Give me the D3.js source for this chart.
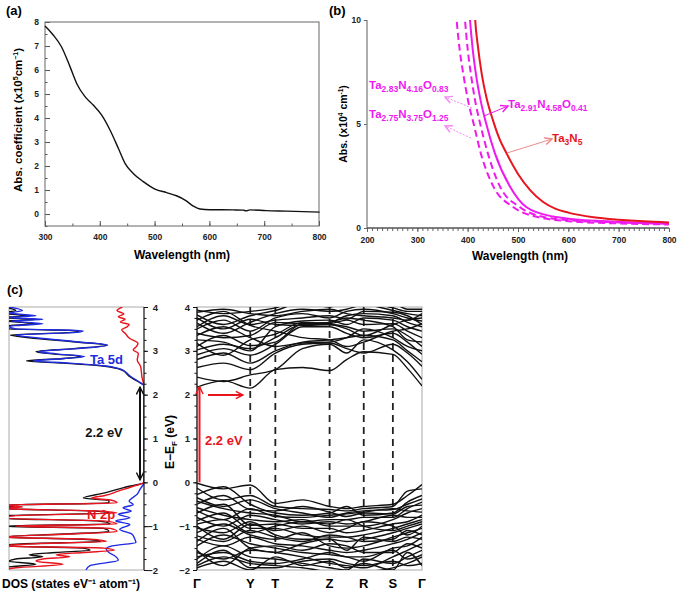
<!DOCTYPE html>
<html>
<head>
<meta charset="utf-8">
<script src="https://cdn.jsdelivr.net/npm/d3@7"></script>
<style>
  body { margin: 0; background: #fff; }
  svg { font-family: "Liberation Sans", Arial, sans-serif; font-weight: bold; }
</style>
</head>
<body>
<svg id="fig" width="685" height="596"></svg>
<script>
// ---------- (a) absorption coefficient ----------
const waveA = [300, 315, 330, 345.6, 357.8, 373, 388, 403.5, 418.6, 433.8, 446, 461, 479.4, 500.7, 522, 540, 555.5, 570.6, 583, 601, 643, 662, 667, 674, 704, 741, 801];
const absA = [7.83, 7.46, 6.97, 6.14, 5.44, 4.89, 4.54, 4.12, 3.5, 2.74, 2.11, 1.69, 1.35, 1.04, 0.89, 0.76, 0.58, 0.33, 0.21, 0.18, 0.17, 0.16, 0.13, 0.17, 0.14, 0.12, 0.08];
const ticksAx = [300, 400, 500, 600, 700, 800];
const ticksAy = [0, 1, 2, 3, 4, 5, 6, 7, 8];

// ---------- (b) absorption of the four samples ----------
const waveTa3N5 = [412, 415, 420, 428, 438, 450, 463, 477, 500, 525, 550, 575, 600, 650, 700, 750, 800];
const absTa3N5 = [11.5, 10, 8.8, 7.4, 6.2, 5.2, 4.3, 3.6, 2.6, 1.8, 1.25, 0.92, 0.74, 0.52, 0.4, 0.32, 0.27];
const waveO041 = [400, 404.6, 410, 417, 426, 437, 454, 484, 517, 570, 600, 700, 800];
const absO041 = [11.5, 10, 8.6, 7.3, 6.1, 5.0, 3.6, 2.0, 1.0, 0.55, 0.45, 0.3, 0.22];
const waveO083 = [390, 394.7, 400, 407, 415, 425, 440, 464, 504, 557, 600, 700, 800];
const absO083 = [11.5, 10, 8.6, 7.3, 6.1, 5.0, 3.6, 2.0, 1.0, 0.5, 0.38, 0.27, 0.2];
const waveO125 = [373, 378, 384, 392, 401, 412, 426, 451, 491, 544, 600, 700, 800];
const absO125 = [11.5, 10, 8.6, 7.3, 6.1, 5.0, 3.6, 2.0, 1.0, 0.5, 0.33, 0.22, 0.17];
const ticksBx = [200, 300, 400, 500, 600, 700, 800];
const ticksBy = [0, 5, 10];
const nameTa3N5 = ['Ta', '3', 'N', '5'];
const nameO041 = ['Ta', '2.91', 'N', '4.58', 'O', '0.41'];
const nameO083 = ['Ta', '2.83', 'N', '4.16', 'O', '0.83'];
const nameO125 = ['Ta', '2.75', 'N', '3.75', 'O', '1.25'];

// ---------- (c) DOS, [energy eV, states] ----------
const dosTotal = [[-2.0, 10.5], [-1.95, 10.5], [-1.87, 8], [-1.8, 10], [-1.75, 9.5], [-1.7, 7.5], [-1.65, 8.5], [-1.6, 6.5], [-1.55, 4.0], [-1.5, 4.5], [-1.45, 10.5], [-1.4, 8.8], [-1.35, 3.2], [-1.3, 4.5], [-1.25, 10.5], [-1.18, 6.0], [-1.12, 2.6], [-1.05, 3.0], [-1.0, 10.5], [-0.95, 2.5], [-0.88, 3.5], [-0.82, 10.5], [-0.76, 10.5], [-0.7, 2.5], [-0.65, 4.0], [-0.6, 10.5], [-0.56, 9.6], [-0.52, 10.5], [-0.47, 2.6], [-0.41, 2.6], [-0.36, 4.5], [-0.24, 2.9], [-0.12, 1.5], [0, 0], [1, 0], [2.2, 0], [2.3, 0.45], [2.42, 1.1], [2.5, 1.35], [2.55, 1.55], [2.6, 2.0], [2.66, 3.2], [2.72, 6.0], [2.77, 8.7], [2.82, 6.2], [2.87, 4.6], [2.93, 6.8], [2.98, 8.0], [3.05, 5.2], [3.13, 2.8], [3.2, 5.0], [3.3, 8.5], [3.36, 9.9], [3.42, 5.3], [3.46, 4.8], [3.5, 10], [3.56, 10.5], [3.62, 8.0], [3.68, 10.2], [3.72, 8.0], [3.76, 10.5], [3.8, 8.5], [3.86, 10.5], [3.92, 9.5], [4.0, 10.5]];
const dosTa5d = [[-2.0, 4.3], [-1.9, 4.0], [-1.78, 1.9], [-1.67, 2.2], [-1.6, 2.6], [-1.52, 2.8], [-1.45, 2.35], [-1.37, 0.6], [-1.28, 0.7], [-1.18, 0.9], [-1.07, 1.8], [-0.96, 1.05], [-0.88, 2.1], [-0.81, 1.05], [-0.73, 1.9], [-0.66, 0.95], [-0.58, 1.55], [-0.51, 0.8], [-0.43, 1.1], [-0.27, 0.5], [-0.16, 0.3], [0, 0], [1, 0], [2.2, 0], [2.3, 0.4], [2.42, 1.0], [2.5, 1.3], [2.55, 1.5], [2.6, 1.9], [2.66, 3.0], [2.72, 5.5], [2.77, 8.2], [2.82, 6.0], [2.87, 4.4], [2.93, 6.5], [2.98, 7.8], [3.05, 5.0], [3.13, 2.7], [3.2, 4.8], [3.3, 8.0], [3.36, 9.5], [3.42, 5.0], [3.46, 4.5], [3.5, 9.5], [3.56, 10], [3.62, 7.5], [3.68, 9.8], [3.72, 7.5], [3.76, 10], [3.8, 8], [3.86, 10], [3.92, 9.0], [4.0, 10]];
const dosN2p = [[-2.0, 10.5], [-1.95, 9.5], [-1.87, 6.0], [-1.8, 8], [-1.75, 7.5], [-1.7, 5.5], [-1.65, 6.5], [-1.6, 4.5], [-1.55, 2.2], [-1.5, 3.0], [-1.45, 10.5], [-1.4, 8], [-1.35, 2.8], [-1.3, 4.0], [-1.25, 10.5], [-1.18, 5.5], [-1.12, 2.0], [-1.05, 2.5], [-1.0, 9.5], [-0.95, 2.0], [-0.88, 3.0], [-0.82, 10.5], [-0.76, 9.5], [-0.7, 2.0], [-0.65, 3.5], [-0.6, 10.5], [-0.56, 9], [-0.52, 10.5], [-0.47, 2.0], [-0.41, 2.4], [-0.36, 3.9], [-0.3, 2.9], [-0.2, 1.9], [-0.1, 0.9], [0, 0], [1, 0], [2.18, 0], [2.4, 0.15], [2.64, 0.25], [2.79, 0.5], [2.94, 0.42], [3.02, 0.8], [3.1, 0.55], [3.17, 0.45], [3.28, 1.05], [3.4, 1.4], [3.48, 1.65], [3.54, 1.3], [3.6, 1.1], [3.66, 1.75], [3.72, 1.4], [3.78, 1.9], [3.84, 1.5], [3.92, 2.0], [4.0, 1.6]];
const ticksE = [-2, -1, 0, 1, 2, 3, 4];

// ---------- (c) band structure ----------
const kDist = [0, 26.5, 53, 78, 105, 132, 149, 166, 195, 209.5, 224];
const kLabels = ['Γ', 'Y', 'T', 'Z', 'R', 'S', 'Γ'];
const kLabelIdx = [0, 2, 3, 5, 7, 8, 10];
const condBands = [
  [2.17, 2.32, 2.15, 2.57, 2.62, 2.55, 2.8, 2.98, 2.92, 2.6, 2.2],
  [2.40, 2.30, 2.45, 2.57, 3.05, 3.15, 2.95, 3.25, 3.02, 2.75, 2.35],
  [2.62, 2.72, 2.57, 2.95, 3.15, 3.18, 3.05, 2.95, 3.15, 2.95, 2.65],
  [2.80, 2.95, 2.72, 3.0, 3.2, 3.25, 3.3, 3.35, 3.25, 3.0, 2.75],
  [2.91, 3.05, 2.9, 3.15, 3.55, 3.55, 3.4, 3.3, 3.4, 3.2, 2.92],
  [3.02, 3.15, 3.05, 3.3, 3.6, 3.6, 3.55, 3.45, 3.5, 3.35, 3.1],
  [3.17, 2.9, 3.25, 3.38, 3.65, 3.62, 3.7, 3.6, 3.62, 3.45, 3.3],
  [3.25, 3.2, 3.0, 3.55, 3.68, 3.7, 3.6, 3.75, 3.7, 3.55, 3.45],
  [3.40, 3.3, 3.35, 3.65, 3.62, 3.65, 3.8, 3.85, 3.8, 3.65, 3.55],
  [3.50, 3.7, 3.45, 3.75, 3.85, 3.75, 3.9, 3.95, 3.85, 3.75, 3.68],
  [3.63, 3.4, 3.65, 3.85, 3.95, 3.9, 3.95, 4.05, 3.92, 3.85, 3.8],
  [3.82, 3.6, 3.8, 3.92, 4.1, 4.0, 4.1, 4.1, 3.98, 3.9, 3.9],
  [3.93, 3.85, 3.9, 3.98, 4.2, 4.2, 4.2, 4.2, 4.1, 3.95, 3.95],
  [3.7, 3.9, 3.58, 3.45, 3.3, 3.25, 3.1, 3.2, 3.45, 3.5, 3.62],
  [3.35, 3.55, 3.3, 3.1, 3.18, 3.2, 3.3, 3.5, 3.3, 3.1, 3.0],
  [3.75, 3.5, 3.72, 3.6, 3.58, 3.6, 3.5, 3.35, 3.6, 3.7, 3.75],
  [3.1, 3.35, 3.12, 3.2, 3.62, 3.65, 3.75, 3.7, 3.55, 3.25, 3.2],
  [3.55, 3.8, 3.6, 3.7, 3.75, 3.8, 3.72, 3.9, 3.88, 3.8, 3.6],
  [3.88, 3.95, 3.85, 3.8, 3.9, 3.95, 3.85, 3.8, 3.75, 3.7, 3.85]
];
const valBands = [
  [-0.02, -0.15, -0.06, -0.48, -0.4, -0.55, -0.6, -0.55, -0.5, -0.3, -0.05],
  [-0.13, -0.4, -0.3, -0.55, -0.6, -0.62, -0.65, -0.6, -0.55, -0.2, -0.15],
  [-0.28, -0.1, -0.5, -0.7, -0.75, -0.7, -0.55, -0.75, -0.7, -0.45, -0.3],
  [-0.43, -0.6, -0.7, -0.75, -0.9, -0.85, -0.85, -0.8, -0.8, -0.6, -0.45],
  [-0.58, -0.75, -0.85, -0.9, -0.85, -1.0, -1.0, -1.0, -0.85, -0.7, -0.6],
  [-0.7, -0.5, -0.98, -0.95, -1.05, -1.05, -1.15, -1.1, -0.95, -0.9, -0.75],
  [-0.88, -0.7, -1.05, -1.05, -1.2, -1.25, -1.25, -1.2, -1.05, -0.95, -0.85],
  [-1.04, -1.15, -0.9, -1.2, -1.3, -1.3, -1.35, -1.3, -1.15, -1.05, -0.95],
  [-1.15, -0.95, -1.2, -1.3, -1.15, -1.45, -1.5, -1.45, -1.25, -1.15, -1.05],
  [-1.3, -1.45, -1.25, -1.4, -1.45, -1.55, -1.6, -1.55, -1.4, -1.3, -1.15],
  [-1.45, -1.2, -1.4, -1.5, -1.6, -1.65, -1.7, -1.8, -1.5, -1.45, -1.25],
  [-1.6, -1.75, -1.55, -1.6, -1.7, -1.85, -1.9, -1.95, -1.7, -1.55, -1.4],
  [-1.75, -1.45, -1.7, -1.75, -1.85, -1.95, -2.0, -1.75, -1.85, -1.7, -1.55],
  [-1.9, -1.7, -1.85, -1.9, -1.95, -2.05, -2.1, -2.05, -1.95, -1.85, -1.7],
  [-0.35, -0.55, -0.4, -0.6, -0.7, -0.8, -0.7, -0.65, -0.62, -0.5, -0.38],
  [-1.0, -1.3, -0.95, -1.1, -1.0, -1.15, -1.05, -0.9, -1.0, -1.2, -1.0],
  [-1.85, -1.55, -1.95, -1.95, -1.8, -1.75, -1.85, -1.9, -1.8, -1.9, -1.85],
  [-0.8, -1.0, -0.75, -0.85, -0.95, -0.9, -0.95, -0.9, -0.75, -0.8, -0.8],
  [-0.5, -0.3, -0.62, -0.65, -0.55, -0.68, -0.78, -0.7, -0.72, -0.55, -0.52],
  [-1.22, -1.35, -1.1, -1.25, -1.35, -1.2, -1.25, -1.35, -1.3, -1.1, -1.2],
  [-1.55, -1.9, -1.5, -1.45, -1.55, -1.4, -1.45, -1.6, -1.6, -1.4, -1.5],
  [-0.95, -0.85, -1.15, -1.0, -0.9, -0.95, -0.85, -1.0, -1.1, -1.0, -0.9],
  [-1.7, -1.6, -1.8, -1.85, -1.75, -1.6, -1.7, -1.7, -1.55, -1.75, -1.65],
  [-0.65, -0.85, -0.6, -0.78, -0.8, -0.75, -0.72, -0.68, -0.6, -0.65, -0.68],
  [-1.35, -1.05, -1.5, -1.6, -1.4, -1.3, -1.55, -1.25, -1.35, -1.25, -1.3],
  [-1.95, -1.8, -2.0, -1.7, -1.9, -1.8, -1.95, -1.85, -2.0, -1.6, -1.9]
];

const RED = '#e8141e', MAGENTA = '#ee1aee', BLUE = '#1f2be0';
const svg = d3.select('#fig');
const defs = svg.append('defs');
const fmtInt = d3.format('d');

function marker(id, color, reverse) {
  defs.append('marker')
    .attr('id', id)
    .attr('viewBox', '0 0 10 10')
    .attr('refX', 9).attr('refY', 5)
    .attr('markerWidth', 9).attr('markerHeight', 9)
    .attr('markerUnits', 'userSpaceOnUse')
    .attr('orient', reverse ? 'auto-start-reverse' : 'auto')
    .append('path')
    .attr('d', 'M1,1 L9,5 L1,9')
    .attr('fill', 'none')
    .attr('stroke', color)
    .attr('stroke-width', 1.6);
}
marker('arrMag', '#f08cf0');
marker('arrMag2', MAGENTA);
marker('arrRed', '#f08a8a');
marker('arrRedB', RED);
marker('arrBlk', '#111', true);

function clip(id, x, y, w, h) {
  defs.append('clipPath').attr('id', id).append('rect')
    .attr('x', x).attr('y', y).attr('width', w).attr('height', h);
}

function styleAxis(g, size, color) {
  g.attr('font-family', null).attr('font-size', null);
  g.select('.domain').remove();
  g.selectAll('.tick line').attr('stroke', color);
  g.selectAll('.tick text').attr('font-size', size).attr('fill', '#222');
}

function chem(parts, x, y, color) {
  const t = svg.append('text').attr('x', x).attr('y', y).attr('fill', color).attr('font-size', 11.5);
  parts.forEach((p, i) => {
    t.append('tspan')
      .attr('font-size', i % 2 ? 8.5 : 11.5)
      .attr('dy', i === 0 ? 0 : (i % 2 ? 3 : -3))
      .text(p);
  });
}

// ================= panel (a) =================
{
  const x = d3.scaleLinear().domain([300, 800]).range([45, 319]);
  const y = d3.scaleLinear().domain([-0.5, 8]).range([226, 22]);
  const g = svg.append('g');

  g.append('g').attr('transform', 'translate(0,226)')
    .call(d3.axisBottom(x).tickValues(d3.range(300, 801, 50)).tickSize(-2.5).tickFormat(''))
    .call(a => styleAxis(a, 8, '#555'));
  g.append('g').attr('transform', 'translate(0,226)')
    .call(d3.axisBottom(x).tickValues(ticksAx).tickSize(-5).tickPadding(8).tickFormat(fmtInt))
    .call(a => styleAxis(a, 8.5, '#555'));
  g.append('g').attr('transform', 'translate(45,0)')
    .call(d3.axisLeft(y).tickValues(d3.range(-0.5, 8.01, 0.5)).tickSize(-2.5).tickFormat(''))
    .call(a => styleAxis(a, 8, '#555'));
  g.append('g').attr('transform', 'translate(45,0)')
    .call(d3.axisLeft(y).tickValues(ticksAy).tickSize(-5).tickPadding(6).tickFormat(fmtInt))
    .call(a => styleAxis(a, 8.5, '#555'));

  g.append('rect').attr('x', 45).attr('y', 22).attr('width', 274).attr('height', 204)
    .attr('fill', 'none').attr('stroke', '#666').attr('stroke-width', 1);

  const line = d3.line().x((d, i) => x(waveA[i])).y(d => y(d)).curve(d3.curveMonotoneX);
  g.append('path').datum(absA).attr('d', line)
    .attr('fill', 'none').attr('stroke', '#111').attr('stroke-width', 1.4);

  g.append('text').attr('x', 182).attr('y', 259).attr('text-anchor', 'middle')
    .attr('font-size', 12).text('Wavelength (nm)');
  const yl = g.append('text').attr('transform', 'translate(22,120) rotate(-90)')
    .attr('text-anchor', 'middle').attr('font-size', 11.5);
  yl.append('tspan').text('Abs. coefficient (x10');
  yl.append('tspan').attr('font-size', 7).attr('dy', -4).text('5');
  yl.append('tspan').attr('font-size', 11.5).attr('dy', 4).text('cm');
  yl.append('tspan').attr('font-size', 7).attr('dy', -4).text('−1');
  yl.append('tspan').attr('font-size', 11.5).attr('dy', 4).text(')');

  svg.append('text').attr('x', 6).attr('y', 15).attr('font-size', 13).text('(a)');
}

// ================= panel (b) =================
{
  const x = d3.scaleLinear().domain([200, 800]).range([367, 669]);
  const y = d3.scaleLinear().domain([0, 10]).range([228, 20]);
  const g = svg.append('g');
  clip('clipB', 367, 20, 302, 208);

  g.append('g').attr('transform', 'translate(0,228)')
    .call(d3.axisBottom(x).tickValues(d3.range(200, 801, 10)).tickSize(3).tickFormat(''))
    .call(a => styleAxis(a, 8, '#666'));
  g.append('g').attr('transform', 'translate(0,228)')
    .call(d3.axisBottom(x).tickValues(ticksBx).tickSize(4).tickPadding(5).tickFormat(fmtInt))
    .call(a => styleAxis(a, 8.5, '#666'));
  g.append('g').attr('transform', 'translate(367,0)')
    .call(d3.axisLeft(y).tickValues(ticksBy).tickSize(3).tickPadding(3).tickFormat(fmtInt))
    .call(a => styleAxis(a, 8.5, '#666'));
  g.append('line').attr('x1', 367).attr('x2', 367).attr('y1', 20).attr('y2', 228)
    .attr('stroke', '#777').attr('stroke-width', 1.2);
  g.append('line').attr('x1', 367).attr('x2', 669).attr('y1', 228).attr('y2', 228)
    .attr('stroke', '#555').attr('stroke-width', 1.5);

  const curves = [
    { w: waveO125, a: absO125, color: MAGENTA, dash: '7,4' },
    { w: waveO083, a: absO083, color: MAGENTA, dash: '7,4' },
    { w: waveO041, a: absO041, color: MAGENTA, dash: null },
    { w: waveTa3N5, a: absTa3N5, color: RED, dash: null }
  ];
  const cg = g.append('g').attr('clip-path', 'url(#clipB)');
  curves.forEach(c => {
    const line = d3.line().x((d, i) => x(c.w[i])).y(d => y(d)).curve(d3.curveMonotoneX);
    cg.append('path').datum(c.a).attr('d', line)
      .attr('fill', 'none').attr('stroke', c.color).attr('stroke-width', 2)
      .attr('stroke-dasharray', c.dash);
  });

  // label arrows
  const arrow = (x1, y1, x2, y2, color, m, dash) =>
    g.append('line').attr('x1', x1).attr('y1', y1).attr('x2', x2).attr('y2', y2)
      .attr('stroke', color).attr('stroke-width', 1).attr('stroke-dasharray', dash)
      .attr('marker-end', `url(#${m})`);
  arrow(472, 108, 445, 97, '#f08cf0', 'arrMag', '2,1.5');
  arrow(471, 138, 445, 126, '#f08cf0', 'arrMag', '2,1.5');
  arrow(484, 116, 508, 106, MAGENTA, 'arrMag2', null);
  arrow(507, 153, 552, 139, '#f08a8a', 'arrRed', null);

  chem(nameO083, 369, 89, MAGENTA);
  chem(nameO125, 369, 118, MAGENTA);
  chem(nameO041, 508, 108, MAGENTA);
  chem(nameTa3N5, 552, 142, RED);

  g.append('text').attr('x', 520).attr('y', 260).attr('text-anchor', 'middle')
    .attr('font-size', 12).text('Wavelength (nm)');
  const yl = g.append('text').attr('transform', 'translate(347,124) rotate(-90)')
    .attr('text-anchor', 'middle').attr('font-size', 10.5);
  yl.append('tspan').text('Abs. (x10');
  yl.append('tspan').attr('font-size', 6.5).attr('dy', -4).text('4');
  yl.append('tspan').attr('font-size', 10.5).attr('dy', 4).text(' cm');
  yl.append('tspan').attr('font-size', 6.5).attr('dy', -4).text('-1');
  yl.append('tspan').attr('font-size', 10.5).attr('dy', 4).text(')');

  svg.append('text').attr('x', 329).attr('y', 15).attr('font-size', 13).text('(b)');
}

// ================= panel (c) DOS =================
const yE = d3.scaleLinear().domain([-2, 4]).range([570, 307]);
{
  const x = d3.scaleLinear().domain([0, 10]).range([144, 9]);
  const g = svg.append('g');
  clip('clipDos', 9, 307, 135, 263);

  g.append('path').attr('d', 'M144,307 H9 V570 H144')
    .attr('fill', 'none').attr('stroke', '#aaa').attr('stroke-width', 1);

  const dg = g.append('g').attr('clip-path', 'url(#clipDos)');
  const line = d3.line().x(d => x(d[1])).y(d => yE(d[0])).curve(d3.curveMonotoneY);
  [[dosTotal, '#111'], [dosTa5d, BLUE], [dosN2p, RED]].forEach(([d, c]) => {
    dg.append('path').datum(d).attr('d', line)
      .attr('fill', 'none').attr('stroke', c).attr('stroke-width', 1.4);
  });

  g.append('g').attr('transform', 'translate(144,0)')
    .call(d3.axisRight(yE).tickValues(d3.range(-2, 4.01, 0.25)).tickSize(2.5).tickFormat(''))
    .call(a => styleAxis(a, 8, '#111'));
  g.append('g').attr('transform', 'translate(144,0)')
    .call(d3.axisRight(yE).tickValues(ticksE).tickSize(4).tickPadding(3).tickFormat(fmtInt))
    .call(a => styleAxis(a, 9.5, '#111'))
    .call(a => a.selectAll('.tick text').attr('text-anchor', 'end').attr('x', 14));
  g.append('line').attr('x1', 144).attr('x2', 144).attr('y1', 307).attr('y2', 570)
    .attr('stroke', '#111').attr('stroke-width', 1.2);

  // gap arrow
  g.append('line').attr('x1', 140).attr('x2', 140).attr('y1', yE(0.06)).attr('y2', yE(2.17))
    .attr('stroke', '#111').attr('stroke-width', 2)
    .attr('marker-start', 'url(#arrBlk)').attr('marker-end', 'url(#arrBlk)');
  g.append('text').attr('x', 104).attr('y', 437).attr('text-anchor', 'middle')
    .attr('font-size', 13).attr('fill', '#111').text('2.2 eV');
  g.append('text').attr('x', 90).attr('y', 364).attr('font-size', 13).attr('fill', BLUE).text('Ta 5d');
  g.append('text').attr('x', 87).attr('y', 519).attr('font-size', 13).attr('fill', RED).text('N 2p');

  const yl = g.append('text').attr('transform', 'translate(174,442) rotate(-90)')
    .attr('text-anchor', 'middle').attr('font-size', 12);
  yl.append('tspan').text('E−E');
  yl.append('tspan').attr('font-size', 8).attr('dy', 3).text('F');
  yl.append('tspan').attr('font-size', 12).attr('dy', -3).text(' (eV)');

  g.append('text').attr('x', 2).attr('y', 588).attr('font-size', 12).text('DOS (states eV⁻¹ atom⁻¹)');
  svg.append('text').attr('x', 7).attr('y', 294).attr('font-size', 13).text('(c)');
}

// ================= panel (c) bands =================
{
  const x = d3.scaleLinear().domain([0, 224]).range([197, 422]);
  const g = svg.append('g');
  clip('clipBand', 197, 307, 225, 263);

  g.append('rect').attr('x', 197).attr('y', 307).attr('width', 225).attr('height', 263)
    .attr('fill', 'none').attr('stroke', '#aaa').attr('stroke-width', 1);

  // high-symmetry lines
  kLabelIdx.slice(1, -1).forEach(i => {
    g.append('line').attr('x1', x(kDist[i])).attr('x2', x(kDist[i]))
      .attr('y1', 307).attr('y2', 570)
      .attr('stroke', '#222').attr('stroke-width', 1.8).attr('stroke-dasharray', '7,5');
  });

  const bg = g.append('g').attr('clip-path', 'url(#clipBand)');
  const line = d3.line().x((d, i) => x(kDist[i])).y(d => yE(d)).curve(d3.curveMonotoneX);
  condBands.concat(valBands).forEach(b => {
    bg.append('path').datum(b).attr('d', line)
      .attr('fill', 'none').attr('stroke', '#111').attr('stroke-width', 1.4);
  });

  g.append('g').attr('transform', 'translate(197,0)')
    .call(d3.axisLeft(yE).tickValues(d3.range(-2, 4.01, 0.25)).tickSize(2.5).tickFormat(''))
    .call(a => styleAxis(a, 8, '#111'));
  g.append('g').attr('transform', 'translate(197,0)')
    .call(d3.axisLeft(yE).tickValues(ticksE).tickSize(4).tickPadding(3).tickFormat(fmtInt))
    .call(a => styleAxis(a, 9.5, '#111'));
  g.append('line').attr('x1', 197).attr('x2', 197).attr('y1', 307).attr('y2', 570)
    .attr('stroke', '#111').attr('stroke-width', 1.2);

  kLabelIdx.forEach((k, i) => {
    g.append('text').attr('x', x(kDist[k])).attr('y', 588).attr('text-anchor', 'middle')
      .attr('font-size', 13).text(kLabels[i]);
  });

  // gap arrows
  g.append('line').attr('x1', 199.5).attr('x2', 199.5).attr('y1', yE(0)).attr('y2', yE(2.18))
    .attr('stroke', RED).attr('stroke-width', 2).attr('marker-end', 'url(#arrRedB)');
  g.append('line').attr('x1', 208).attr('x2', 243).attr('y1', 395).attr('y2', 395)
    .attr('stroke', RED).attr('stroke-width', 1.8).attr('marker-end', 'url(#arrRedB)');
  g.append('rect').attr('x', 203).attr('y', 431).attr('width', 43).attr('height', 16).attr('fill', '#fff');
  g.append('text').attr('x', 205).attr('y', 445).attr('font-size', 13).attr('fill', RED).text('2.2 eV');
}
</script>
</body>
</html>
